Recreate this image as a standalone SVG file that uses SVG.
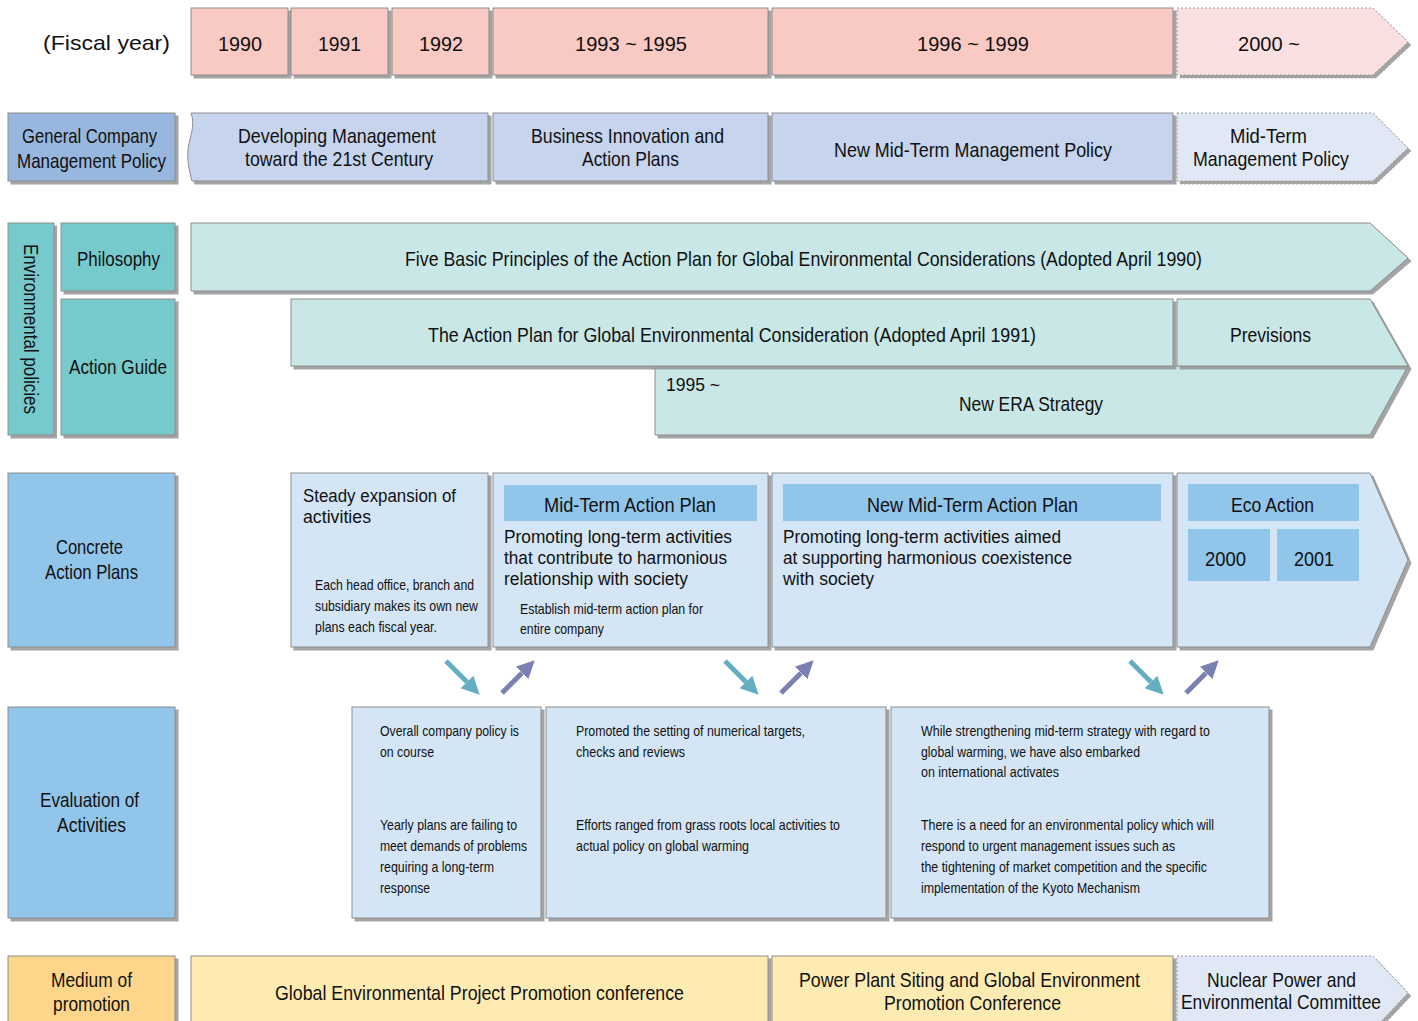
<svg xmlns="http://www.w3.org/2000/svg" width="1418" height="1021" viewBox="0 0 1418 1021">
<defs>
<filter id="sh" x="-5%" y="-5%" width="110%" height="120%"><feDropShadow dx="3" dy="3" stdDeviation="0.6" flood-color="#9a9a9a" flood-opacity="0.9"/></filter>
<marker id="aht" viewBox="0 0 10 10" refX="0" refY="5" markerWidth="3.6" markerHeight="4.2" orient="auto" markerUnits="strokeWidth"><path d="M0,0 L10,5 L0,10 z" fill="#65aec1"/></marker>
<marker id="ahp" viewBox="0 0 10 10" refX="0" refY="5" markerWidth="3.6" markerHeight="4.2" orient="auto" markerUnits="strokeWidth"><path d="M0,0 L10,5 L0,10 z" fill="#7b80b2"/></marker>
</defs>
<style>
.b{stroke:#8e8e8e;stroke-width:1;filter:url(#sh)}
.d{stroke:#999;stroke-width:1;stroke-dasharray:2,2;filter:url(#sh)}
.pk{fill:#f9c9c3}.lpk{fill:#fbe0e1}
.hb{fill:#97b7df}.mb{fill:#c6d4ed}.lb{fill:#e1e8f5}
.tl{fill:#76cacc}.ltl{fill:#c8e7e6}
.cb{fill:#91c5ea}.pb{fill:#d4e5f5}
.ih{fill:#91c5ea}
.or{fill:#fdd68b}.yl{fill:#fdebb2}
text{fill:#111;font-family:"Liberation Sans",Arial,sans-serif}
.n{font-size:21px}
.ns{font-size:15px}
.r{font-size:21px}
.m{font-size:17.5px}
.c{text-anchor:middle}
.at{stroke:#65aec1;stroke-width:5;fill:none}
.ap{stroke:#7b80b2;stroke-width:5;fill:none}
</style>

<g id="fiscal-year">
<text class="r" x="43" y="50" textLength="127" lengthAdjust="spacingAndGlyphs">(Fiscal year)</text>
<g id="y1990"><rect class="b pk" x="191" y="8" width="97" height="67"/><text class="r c" x="240" y="51" textLength="44" lengthAdjust="spacingAndGlyphs">1990</text></g>
<g id="y1991"><rect class="b pk" x="291" y="8" width="97" height="67"/><text class="r c" x="339.5" y="51" textLength="43" lengthAdjust="spacingAndGlyphs">1991</text></g>
<g id="y1992"><rect class="b pk" x="392" y="8" width="97" height="67"/><text class="r c" x="441" y="51" textLength="44" lengthAdjust="spacingAndGlyphs">1992</text></g>
<g id="y1993"><rect class="b pk" x="493" y="8" width="275" height="67"/><text class="r c" x="631" y="51" textLength="112" lengthAdjust="spacingAndGlyphs">1993 ~ 1995</text></g>
<g id="y1996"><rect class="b pk" x="772" y="8" width="401" height="67"/><text class="r c" x="973" y="51" textLength="112" lengthAdjust="spacingAndGlyphs">1996 ~ 1999</text></g>
<g id="y2000"><path class="d lpk" d="M1177,8 H1373 L1408,42 L1373,75 H1177 Z"/><text class="r c" x="1269" y="51" textLength="62" lengthAdjust="spacingAndGlyphs">2000 ~</text></g>
</g>

<g id="general-policy">
<g id="gp-label"><rect class="b hb" x="8" y="113" width="167" height="68"/><text class="n c" x="89.5" y="143" textLength="135" lengthAdjust="spacingAndGlyphs">General Company</text><text class="n c" x="91.5" y="168" textLength="149" lengthAdjust="spacingAndGlyphs">Management Policy</text></g>
<g id="gp-dev"><path class="b mb" d="M191,113 H488 V181 H192 C189,170 187,160 188,150 C189,138 196,126 191,113 Z"/><text class="n c" x="337" y="143" textLength="198" lengthAdjust="spacingAndGlyphs">Developing Management</text><text class="n c" x="339" y="166" textLength="188" lengthAdjust="spacingAndGlyphs">toward the 21st Century</text></g>
<g id="gp-bus"><rect class="b mb" x="493" y="113" width="275" height="68"/><text class="n c" x="627.5" y="143" textLength="193" lengthAdjust="spacingAndGlyphs">Business Innovation and</text><text class="n c" x="630.5" y="166" textLength="97" lengthAdjust="spacingAndGlyphs">Action Plans</text></g>
<g id="gp-new"><rect class="b mb" x="772" y="113" width="401" height="68"/><text class="n c" x="973" y="157" textLength="278" lengthAdjust="spacingAndGlyphs">New Mid-Term Management Policy</text></g>
<g id="gp-mid"><path class="d lb" d="M1177,113 H1373 L1408,148 L1373,181 H1177 Z"/><text class="n c" x="1268.5" y="143" textLength="77" lengthAdjust="spacingAndGlyphs">Mid-Term</text><text class="n c" x="1271" y="166" textLength="156" lengthAdjust="spacingAndGlyphs">Management Policy</text></g>
</g>

<g id="env-policies">
<g id="env-label"><rect class="b tl" x="8" y="223" width="46" height="212"/><text class="n c" x="31" y="329" dominant-baseline="central" transform="rotate(90 31 329)" textLength="170" lengthAdjust="spacingAndGlyphs">Environmental policies</text></g>
<g id="philosophy"><rect class="b tl" x="61" y="223" width="114" height="68"/><text class="n c" x="118.5" y="266" textLength="83" lengthAdjust="spacingAndGlyphs">Philosophy</text></g>
<g id="action-guide"><rect class="b tl" x="61" y="299" width="114" height="136"/><text class="n c" x="118" y="374" textLength="98" lengthAdjust="spacingAndGlyphs">Action Guide</text></g>
<g id="five-basic"><path class="b ltl" d="M191,223 H1370 L1408,258 L1370,291 H191 Z"/><text class="n c" x="803.5" y="266" textLength="797" lengthAdjust="spacingAndGlyphs">Five Basic Principles of the Action Plan for Global Environmental Considerations (Adopted April 1990)</text></g>
<g id="new-era"><path class="b ltl" d="M655,366 H1408 L1370,435 H655 Z"/><text class="m" x="666" y="391" textLength="54" lengthAdjust="spacingAndGlyphs">1995 ~</text><text class="n c" x="1031" y="411" textLength="144" lengthAdjust="spacingAndGlyphs">New ERA Strategy</text></g>
<g id="action-plan"><rect class="b ltl" x="291" y="299" width="882" height="67"/><text class="n c" x="732" y="342" textLength="608" lengthAdjust="spacingAndGlyphs">The Action Plan for Global Environmental Consideration (Adopted April 1991)</text></g>
<g id="previsions"><path class="b ltl" d="M1177,299 H1370 L1408,366 H1177 Z"/><text class="n c" x="1270.5" y="342" textLength="81" lengthAdjust="spacingAndGlyphs">Previsions</text></g>
</g>

<g id="concrete">
<g id="ca-label"><rect class="b cb" x="8" y="473" width="167" height="174"/><text class="n c" x="89.5" y="554" textLength="67" lengthAdjust="spacingAndGlyphs">Concrete</text><text class="n c" x="91.5" y="579" textLength="93" lengthAdjust="spacingAndGlyphs">Action Plans</text></g>
<g id="ca-steady"><rect class="b pb" x="291" y="473" width="197" height="174"/>
<text class="m" x="303" y="502" textLength="153" lengthAdjust="spacingAndGlyphs">Steady expansion of</text><text class="m" x="303" y="523" textLength="68" lengthAdjust="spacingAndGlyphs">activities</text>
<text class="ns" x="315" y="590" textLength="159" lengthAdjust="spacingAndGlyphs">Each head office, branch and</text><text class="ns" x="315" y="611" textLength="163" lengthAdjust="spacingAndGlyphs">subsidiary makes its own new</text><text class="ns" x="315" y="632" textLength="122" lengthAdjust="spacingAndGlyphs">plans each fiscal year.</text></g>
<g id="ca-mid"><rect class="b pb" x="493" y="473" width="275" height="174"/><rect class="ih" x="504" y="485" width="253" height="36"/><text class="n c" x="630" y="512" textLength="172" lengthAdjust="spacingAndGlyphs">Mid-Term Action Plan</text>
<text class="m" x="504" y="543" textLength="228" lengthAdjust="spacingAndGlyphs">Promoting long-term activities</text><text class="m" x="504" y="564" textLength="223" lengthAdjust="spacingAndGlyphs">that contribute to harmonious</text><text class="m" x="504" y="585" textLength="184" lengthAdjust="spacingAndGlyphs">relationship with society</text>
<text class="ns" x="520" y="614" textLength="183" lengthAdjust="spacingAndGlyphs">Establish mid-term action plan for</text><text class="ns" x="520" y="634" textLength="84" lengthAdjust="spacingAndGlyphs">entire company</text></g>
<g id="ca-new"><rect class="b pb" x="772" y="473" width="401" height="174"/><rect class="ih" x="783" y="484" width="378" height="37"/><text class="n c" x="972.5" y="512" textLength="211" lengthAdjust="spacingAndGlyphs">New Mid-Term Action Plan</text>
<text class="m" x="783" y="543" textLength="278" lengthAdjust="spacingAndGlyphs">Promoting long-term activities aimed</text><text class="m" x="783" y="564" textLength="289" lengthAdjust="spacingAndGlyphs">at supporting harmonious coexistence</text><text class="m" x="783" y="585" textLength="91" lengthAdjust="spacingAndGlyphs">with society</text></g>
<g id="ca-eco"><path class="b pb" d="M1177,473 H1370 L1408,560 L1370,647 H1177 Z"/><rect class="ih" x="1188" y="484" width="171" height="37"/><text class="n c" x="1272.5" y="512" textLength="83" lengthAdjust="spacingAndGlyphs">Eco Action</text>
<rect class="ih" x="1188" y="529" width="82" height="52"/><text class="r c" x="1225.5" y="566" textLength="41" lengthAdjust="spacingAndGlyphs">2000</text>
<rect class="ih" x="1277" y="529" width="82" height="52"/><text class="r c" x="1314" y="566" textLength="40" lengthAdjust="spacingAndGlyphs">2001</text></g>
</g>

<g id="connectors">
<line class="at" x1="446" y1="661" x2="467" y2="682" marker-end="url(#aht)"/>
<line class="ap" x1="502" y1="693" x2="522" y2="673" marker-end="url(#ahp)"/>
<line class="at" x1="725" y1="661" x2="746" y2="682" marker-end="url(#aht)"/>
<line class="ap" x1="781" y1="693" x2="801" y2="673" marker-end="url(#ahp)"/>
<line class="at" x1="1130" y1="661" x2="1151" y2="682" marker-end="url(#aht)"/>
<line class="ap" x1="1186" y1="693" x2="1206" y2="673" marker-end="url(#ahp)"/>
</g>

<g id="evaluation">
<g id="ev-label"><rect class="b cb" x="8" y="707" width="167" height="211"/><text class="n c" x="89.5" y="807" textLength="99" lengthAdjust="spacingAndGlyphs">Evaluation of</text><text class="n c" x="91.5" y="832" textLength="69" lengthAdjust="spacingAndGlyphs">Activities</text></g>
<g id="ev-1"><rect class="b pb" x="352" y="707" width="189" height="211"/>
<text class="ns" x="380" y="736" textLength="139" lengthAdjust="spacingAndGlyphs">Overall company policy is</text><text class="ns" x="380" y="757" textLength="54" lengthAdjust="spacingAndGlyphs">on course</text>
<text class="ns" x="380" y="830" textLength="137" lengthAdjust="spacingAndGlyphs">Yearly plans are failing to</text><text class="ns" x="380" y="851" textLength="147" lengthAdjust="spacingAndGlyphs">meet demands of problems</text><text class="ns" x="380" y="872" textLength="114" lengthAdjust="spacingAndGlyphs">requiring a long-term</text><text class="ns" x="380" y="893" textLength="50" lengthAdjust="spacingAndGlyphs">response</text></g>
<g id="ev-2"><rect class="b pb" x="546" y="707" width="340" height="211"/>
<text class="ns" x="576" y="736" textLength="229" lengthAdjust="spacingAndGlyphs">Promoted the setting of numerical targets,</text><text class="ns" x="576" y="757" textLength="109" lengthAdjust="spacingAndGlyphs">checks and reviews</text>
<text class="ns" x="576" y="830" textLength="264" lengthAdjust="spacingAndGlyphs">Efforts ranged from grass roots local activities to</text><text class="ns" x="576" y="851" textLength="173" lengthAdjust="spacingAndGlyphs">actual policy on global warming</text></g>
<g id="ev-3"><rect class="b pb" x="891" y="707" width="378" height="211"/>
<text class="ns" x="921" y="736" textLength="289" lengthAdjust="spacingAndGlyphs">While strengthening mid-term strategy with regard to</text><text class="ns" x="921" y="757" textLength="219" lengthAdjust="spacingAndGlyphs">global warming, we have also embarked</text><text class="ns" x="921" y="777" textLength="138" lengthAdjust="spacingAndGlyphs">on international activates</text>
<text class="ns" x="921" y="830" textLength="293" lengthAdjust="spacingAndGlyphs">There is a need for an environmental policy which will</text><text class="ns" x="921" y="851" textLength="254" lengthAdjust="spacingAndGlyphs">respond to urgent management issues such as</text><text class="ns" x="921" y="872" textLength="286" lengthAdjust="spacingAndGlyphs">the tightening of market competition and the specific</text><text class="ns" x="921" y="893" textLength="219" lengthAdjust="spacingAndGlyphs">implementation of the Kyoto Mechanism</text></g>
</g>

<g id="medium">
<g id="md-label"><rect class="b or" x="8" y="956" width="167" height="80"/><text class="n c" x="91.5" y="987" textLength="81" lengthAdjust="spacingAndGlyphs">Medium of</text><text class="n c" x="91.5" y="1011" textLength="77" lengthAdjust="spacingAndGlyphs">promotion</text></g>
<g id="md-global"><rect class="b yl" x="191" y="956" width="577" height="80"/><text class="n c" x="479.5" y="1000" textLength="409" lengthAdjust="spacingAndGlyphs">Global Environmental Project Promotion conference</text></g>
<g id="md-power"><rect class="b yl" x="772" y="956" width="401" height="80"/><text class="n c" x="969.5" y="987" textLength="341" lengthAdjust="spacingAndGlyphs">Power Plant Siting and Global Environment</text><text class="n c" x="972.5" y="1010" textLength="177" lengthAdjust="spacingAndGlyphs">Promotion Conference</text></g>
<g id="md-nuclear"><path class="d lb" d="M1177,956 H1373 L1408,993 L1373,1030 H1177 Z"/><text class="n c" x="1281.5" y="987" textLength="149" lengthAdjust="spacingAndGlyphs">Nuclear Power and</text><text class="n c" x="1281" y="1009" textLength="200" lengthAdjust="spacingAndGlyphs">Environmental Committee</text></g>
</g>
</svg>
